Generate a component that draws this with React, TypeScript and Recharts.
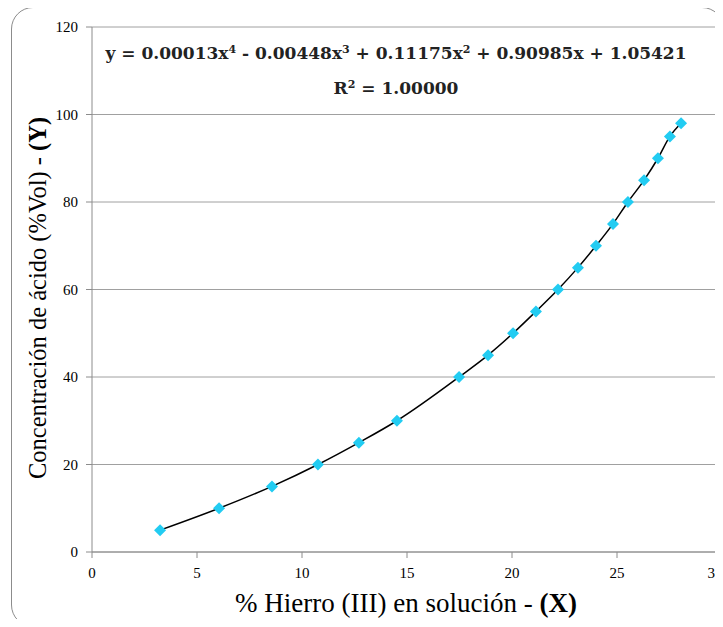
import React from 'react';
import { ComposedChart, Line, Scatter, XAxis, YAxis, CartesianGrid, Customized } from 'recharts';

// % Hierro (III)
const hierro = [3.24, 6.05, 8.57, 10.76, 12.71, 14.52, 17.48, 18.86, 20.05, 21.14, 22.19, 23.14, 24.0, 24.81, 25.52, 26.29, 26.95, 27.52, 28.05];
// concentración de ácido (%Vol)
const acido = [5, 10, 15, 20, 25, 30, 40, 45, 50, 55, 60, 65, 70, 75, 80, 85, 90, 95, 98];

const xTicks = [0, 5, 10, 15, 20, 25, 30];
const yTicks = [0, 20, 40, 60, 80, 100, 120];

const data = hierro.map((x, i) => ({ x, y: acido[i] }));

const serif = '"Liberation Serif", "Times New Roman", serif';
const eqFont = '"DejaVu Serif", serif';

const Diamond = (props: any) => {
  const { cx, cy } = props;
  const r = 6;
  return <polygon points={`${cx},${cy - r} ${cx + r},${cy} ${cx},${cy + r} ${cx - r},${cy}`} fill="#22ccf2" />;
};

const XTick = (props: any) => {
  const { x, y, payload } = props;
  return (
    <text x={x} y={y + 14} textAnchor="middle" style={{ fontFamily: serif, fontSize: 15, fill: '#000' }}>
      {payload.value}
    </text>
  );
};

const YTick = (props: any) => {
  const { x, y, payload } = props;
  return (
    <text x={x} y={y + 5} textAnchor="end" style={{ fontFamily: serif, fontSize: 15, fill: '#000' }}>
      {payload.value}
    </text>
  );
};

const sup = { fontSize: 11 };

const Textos = () => (
  <g>
    <text x={396} y={59} textAnchor="middle" style={{ fontFamily: eqFont, fontWeight: 'bold', fontSize: 17, fill: '#222' }}>
      y = 0.00013x<tspan baselineShift="super" style={sup}>4</tspan> - 0.00448x
      <tspan baselineShift="super" style={sup}>3</tspan> + 0.11175x
      <tspan baselineShift="super" style={sup}>2</tspan> + 0.90985x + 1.05421
    </text>
    <text x={396} y={94} textAnchor="middle" style={{ fontFamily: eqFont, fontWeight: 'bold', fontSize: 17, fill: '#222' }}>
      R<tspan baselineShift="super" style={sup}>2</tspan> = 1.00000
    </text>
    <text x={406} y={612} textAnchor="middle" style={{ fontFamily: serif, fontSize: 27, fill: '#000' }}>
      % Hierro (III) en solución - <tspan style={{ fontWeight: 'bold' }}>(X)</tspan>
    </text>
    <text
      x={0}
      y={0}
      transform="translate(46,298) rotate(-90)"
      textAnchor="middle"
      style={{ fontFamily: serif, fontSize: 24.5, fill: '#000' }}
    >
      Concentración de ácido (%Vol) - <tspan style={{ fontWeight: 'bold' }}>(Y)</tspan>
    </text>
  </g>
);

export default function App() {
  return (
    <div style={{ position: 'relative', width: 723, height: 627, margin: -8, overflow: 'hidden', background: '#fff' }}>
      <div
        style={{
          position: 'absolute',
          left: 11,
          top: 7,
          width: 713,
          height: 620,
          boxSizing: 'border-box',
          border: '1.5px solid #8c8c8c',
          borderRadius: 22,
        }}
      />
      <div style={{ position: 'absolute', left: 0, top: 0 }}>
        <ComposedChart width={723} height={627} data={data} margin={{ top: 27, right: 1, left: 0, bottom: 45 }}>
          <CartesianGrid vertical={false} stroke="#a0a0a0" />
          <XAxis
            dataKey="x"
            type="number"
            domain={[0, 30]}
            ticks={xTicks}
            height={30}
            stroke="#8c8c8c"
            tickMargin={6}
            tick={<XTick />}
          />
          <YAxis
            type="number"
            domain={[0, 120]}
            ticks={yTicks}
            width={92}
            stroke="#8c8c8c"
            tickMargin={8}
            tick={<YTick />}
          />
          <Scatter dataKey="y" shape={<Diamond />} isAnimationActive={false} />
          <Line type="monotone" dataKey="y" stroke="#000" strokeWidth={1.5} dot={false} isAnimationActive={false} />
          <Customized component={Textos} />
        </ComposedChart>
      </div>
    </div>
  );
}
